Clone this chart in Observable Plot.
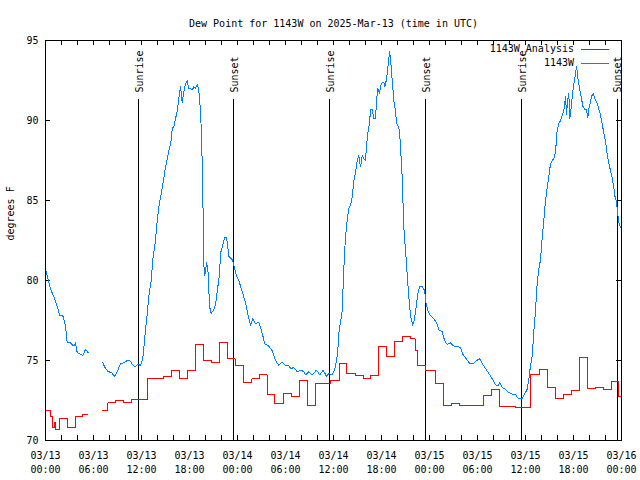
<!DOCTYPE html>
<html><head><meta charset="utf-8">
<script src="https://cdn.jsdelivr.net/npm/d3@7"></script>
<script src="https://cdn.jsdelivr.net/npm/@observablehq/plot@0.6"></script>
<style>body{margin:0;background:#fff}</style>
</head><body><div id="chart"></div>
<script>
const titleText = "Dew Point for 1143W on 2025-Mar-13 (time in UTC)";
const yLabel = "degrees F";
const seriesNames = ["1143W_Analysis", "1143W"];
const seriesColors = ["#ff0000", "#0080ff"];
const yTicks = [70, 75, 80, 85, 90, 95];
const startTime = "2025-03-13T00:00Z";
const endTime = "2025-03-16T00:00Z";

const sunLabels = ["Sunrise", "Sunset", "Sunrise", "Sunset", "Sunrise", "Sunset"];
const sunTimes = ["2025-03-13T11:39Z", "2025-03-13T23:32Z", "2025-03-14T11:33Z", "2025-03-14T23:32Z", "2025-03-15T11:32Z", "2025-03-15T23:27Z"];

// hours after 2025-03-13 00:00 UTC; NaN marks a data gap
const obsHours = [0,0.6,1.04,1.46,1.79,2.16,2.5,2.71,3.13,3.54,3.75,3.96,4.38,4.66,5.0,5.33,6.2,
7.16,7.5,7.84,8.25,8.66,9.04,9.38,9.79,10.2,10.54,10.88,11.21,11.54,11.88,12.16,12.29,12.5,12.71,12.91,13.21,13.46,13.75,13.88,14.16,14.38,14.66,14.91,15.21,15.41,15.71,15.84,16.04,16.25,16.46,16.66,16.88,17.09,17.29,17.5,17.71,17.91,18.13,18.34,18.54,18.75,18.96,19.16,19.29,19.38,19.5,19.63,19.71,19.79,19.91,20.13,20.29,20.41,20.54,20.71,20.96,21.25,21.54,21.75,21.88,22.09,22.41,22.63,22.79,22.91,23.34,23.63,23.88,
24.16,24.59,25.0,25.29,25.63,25.91,26.25,26.66,27.09,27.41,27.91,28.34,28.75,29.16,29.59,30.0,30.41,30.63,31.04,31.46,31.88,32.29,32.5,32.91,33.34,33.88,34.29,34.71,35.13,35.41,35.84,36.13,36.38,36.54,36.66,36.88,37.09,37.21,37.38,37.5,37.71,37.91,38.13,38.34,38.54,38.75,38.96,39.16,39.38,39.59,39.79,40.0,40.13,40.29,40.5,40.63,40.84,41.04,41.25,41.38,41.54,41.75,41.96,42.29,42.41,42.59,42.71,42.84,43.0,43.13,43.25,43.41,43.54,43.75,43.88,44.04,44.25,44.38,44.59,44.79,45.0,45.21,45.41,45.63,45.91,46.13,46.34,46.59,46.79,47.09,47.38,47.56,47.79,
48.13,48.54,48.91,49.16,49.59,49.88,50.21,50.63,51.04,51.46,51.88,52.16,52.59,53.04,53.46,53.88,54.29,54.59,55.0,55.41,55.84,56.25,56.54,56.79,57.09,57.5,57.91,58.34,58.75,58.96,59.16,59.59,59.88,60.21,60.41,60.63,60.84,61.04,61.25,61.44,61.63,61.81,61.96,62.09,62.29,62.5,62.71,62.91,63.13,63.34,63.54,63.66,63.81,63.96,64.16,64.38,64.59,64.79,65.0,65.13,65.29,65.41,65.54,65.71,65.84,66.04,66.25,66.38,66.54,66.75,66.96,67.16,67.38,67.59,67.79,67.91,68.04,68.25,68.46,68.66,68.96,69.29,69.59,69.79,70.0,70.21,70.41,70.63,70.84,71.04,71.16,71.34,71.46,71.63,71.79,71.96];
const obsValues = [80.7,79.5,79.0,78.4,77.8,77.8,77.2,76.1,76.1,75.9,76.1,75.5,75.4,75.3,75.7,75.5,NaN,
74.85,74.5,74.3,74.25,74.0,74.4,74.8,74.85,75.0,75.0,74.75,74.6,74.75,74.7,75.1,75.8,76.9,77.9,79.0,80.0,81.5,82.5,83.3,84.6,85.2,86.0,86.8,87.6,88.1,88.75,89.5,89.6,90.1,90.6,91.35,92.1,91.1,91.8,92.3,92.5,91.98,92.0,91.9,92.1,92.0,92.25,91.9,91.1,90.7,88.9,86.7,83.75,81.0,80.3,81.1,80.8,79.4,78.3,77.95,78.1,78.5,79.6,80.4,81.7,82.1,82.7,82.7,82.1,81.5,81.3,80.8,80.3,
80.0,79.3,78.6,77.9,77.2,77.6,77.3,77.4,76.7,76.05,75.9,75.6,75.0,74.7,74.9,74.7,74.7,74.5,74.55,74.3,74.4,74.3,74.1,74.3,74.1,74.4,74.1,74.4,74.0,74.2,74.1,74.4,75.0,75.6,76.7,77.4,78.1,79.8,81.7,82.7,83.75,84.5,84.7,85.2,86.25,86.7,87.5,87.8,87.1,87.8,87.6,87.5,88.4,89.2,89.8,90.7,90.7,90.1,90.1,91.25,91.98,91.7,92.3,92.4,92.1,92.5,92.9,93.5,94.3,93.9,93.0,92.1,91.25,90.6,89.8,89.7,89.4,88.3,86.4,83.3,81.9,80.4,79.0,77.8,77.2,77.6,78.4,79.3,79.6,79.6,79.4,78.6,78.1,
77.8,77.6,77.35,76.9,76.8,76.25,76.0,76.1,75.9,75.9,75.8,75.4,75.1,74.8,74.8,75.0,75.1,74.8,74.5,74.2,73.85,73.5,73.4,73.6,73.3,73.2,73.0,72.9,72.9,72.7,72.6,72.6,72.9,73.2,73.8,74.7,75.3,76.8,78.1,79.7,80.6,81.1,81.8,82.7,83.75,85.0,85.8,86.5,87.3,87.5,87.6,87.8,88.4,89.4,89.8,90.0,90.3,90.6,91.5,90.4,91.35,91.7,90.1,90.8,91.5,92.3,92.9,93.4,92.7,92.0,91.5,90.9,90.7,90.7,90.2,90.7,91.0,91.5,91.7,91.35,91.1,90.5,89.8,89.2,88.7,87.9,87.35,86.85,86.4,85.8,85.3,85.0,84.5,83.75,83.4,83.3];

// analysis: value holds from its time until the next time
const anaHours = [0,0.63,0.85,1.1,1.3,1.75,2.75,3.75,4.66,5.33,6.2,
7.16,7.8,8.75,9.8,10.7,12.7,14.75,15.75,16.75,17.75,18.75,19.75,20.75,21.75,22.75,23.7,
24.8,25.8,26.75,27.7,28.6,29.7,30.7,31.75,32.7,33.7,35.6,36.7,37.6,38.7,39.7,40.6,41.6,42.6,43.6,44.6,45.6,46.2,46.5,47.5,
48.75,49.7,50.7,51.8,54.7,55.7,56.7,57.6,58.7,60.6,61.7,62.7,63.75,64.8,65.75,66.75,67.7,68.7,69.75,70.7,71.6,72.0];
const anaValues = [71.9,71.5,70.8,71.1,70.7,71.4,70.8,71.5,71.6,71.6,NaN,
71.85,72.35,72.5,72.35,72.55,73.9,74.0,74.4,73.9,74.4,76.0,75.0,74.85,76.1,75.1,74.7,
73.6,73.85,74.1,72.85,72.3,72.95,72.75,73.75,72.2,73.55,73.75,74.8,74.2,74.05,73.9,74.05,75.9,75.25,76.2,76.5,76.35,75.6,74.7,74.4,
73.55,72.2,72.3,72.2,72.8,73.2,72.1,72.15,72.05,74.1,74.45,73.3,72.6,72.9,73.15,75.2,73.25,73.3,73.2,73.7,72.75,72.75];

const T0 = Date.parse(startTime);
const toDate = h => new Date(T0 + h * 3600e3);
const obs = obsHours.map((h, i) => ({t: toDate(h), v: obsValues[i]}));
const ana = anaHours.map((h, i) => ({t: toDate(h), v: anaValues[i]}));
const sun = sunTimes.map((t, i) => ({t: new Date(t), label: sunLabels[i]}));
const t0 = new Date(startTime), t1 = new Date(endTime);
const majorTicks = d3.utcHour.every(6).range(t0, new Date(+t1 + 1));
const minorTicks = d3.utcHour.every(2).range(t0, new Date(+t1 + 1));

const font = "'DejaVu Sans Mono', monospace";

const legend = (index, scales, values, dims) => {
  const g = d3.create("svg:g");
  const xr = dims.width - dims.marginRight;
  seriesNames.forEach((name, i) => {
    const y = dims.marginTop + 9 + 14 * i;
    g.append("text").attr("x", xr - 47).attr("y", y).attr("dy", "0.32em")
      .attr("text-anchor", "end").attr("fill", "black").text(name);
    g.append("line").attr("x1", xr - 40).attr("x2", xr - 12).attr("y1", y + 0.5).attr("y2", y + 0.5)
      .attr("stroke", seriesColors[i]).attr("stroke-width", 1);
  });
  return g.node();
};

const chart = Plot.plot({
  width: 640, height: 480,
  marginLeft: 45, marginRight: 19, marginTop: 40, marginBottom: 40,
  style: {fontFamily: font, fontSize: "10px", background: "white", color: "black", shapeRendering: "crispEdges"},
  x: {type: "utc", domain: [t0, t1]},
  y: {domain: [70, 95]},
  marks: [
    Plot.tickX(minorTicks, {x: d => d, insetTop: 395, stroke: "black"}),
    Plot.tickX(minorTicks, {x: d => d, insetBottom: 395, stroke: "black"}),
    Plot.tickY(yTicks, {y: d => d, insetRight: 571, stroke: "black"}),
    Plot.tickY(yTicks, {y: d => d, insetLeft: 571, stroke: "black"}),
    Plot.ruleX(sun, {x: "t", insetTop: 59, stroke: "black"}),
    Plot.text(sun, {x: "t", text: "label", frameAnchor: "top", rotate: -90, textAnchor: "start", dy: 52, dx: -3, fill: "black"}),
    Plot.line(ana, {x: "t", y: "v", curve: "step-after", stroke: seriesColors[0], strokeWidth: 1}),
    Plot.line(obs, {x: "t", y: "v", stroke: seriesColors[1], strokeWidth: 1}),
    Plot.frame({stroke: "black"}),
    Plot.axisX(majorTicks, {tickSize: 0, tickPadding: 9, tickFormat: d3.utcFormat("%m/%d\n%H:%M"), lineHeight: 1.4, label: null, fill: "black"}),
    Plot.axisY(yTicks, {tickSize: 0, tickPadding: 7, label: null, fill: "black"}),
    Plot.text([yLabel], {frameAnchor: "left", rotate: -90, dx: -35, text: d => d, fill: "black"}),
    Plot.text([titleText], {frameAnchor: "top", dy: -21, text: d => d, fill: "black"}),
    legend
  ]
});
document.getElementById("chart").append(chart);
</script></body></html>
